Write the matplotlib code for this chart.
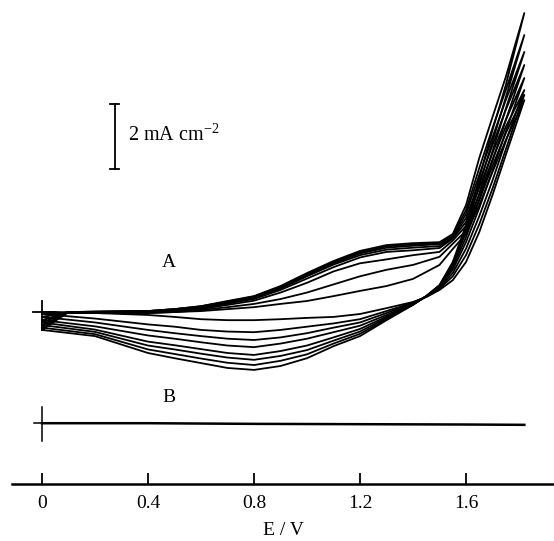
import numpy as np
import matplotlib.pyplot as plt

plt.rcParams['font.family'] = ['Liberation Serif', 'DejaVu Serif']
plt.rcParams['mathtext.fontset'] = 'custom'
plt.rcParams['mathtext.rm'] = 'Liberation Serif'

# potential grids (V) for the positive-going and negative-going sweeps
E_fwd = [0.0, 0.1, 0.4, 0.5, 0.6, 0.7, 0.8, 0.9, 1.0, 1.1, 1.2, 1.3, 1.4, 1.5, 1.55, 1.6, 1.65, 1.7, 1.75, 1.82]
E_rev = [1.82, 1.75, 1.7, 1.65, 1.6, 1.55, 1.5, 1.45, 1.4, 1.3, 1.2, 1.1, 1.0, 0.9, 0.8, 0.7, 0.6, 0.5, 0.4, 0.2, 0.0]

# curve A, current density (mA cm-2), one forward + one reverse sweep per cycle
fwd_1 = [0.00, -0.03, -0.03, 0.00, 0.03, 0.09, 0.15, 0.25, 0.34, 0.49, 0.65, 0.80, 1.02, 1.45, 1.94, 2.40, 3.29, 4.31, 5.29, 6.52]
fwd_2 = [-0.06, 0.00, -0.03, 0.00, 0.06, 0.15, 0.25, 0.40, 0.60, 0.85, 1.10, 1.30, 1.45, 1.70, 2.10, 2.50, 3.45, 4.50, 5.50, 6.68]
fwd_3 = [-0.15, 0.00, 0.00, 0.03, 0.09, 0.22, 0.35, 0.60, 0.90, 1.25, 1.50, 1.62, 1.75, 1.85, 2.20, 2.65, 3.60, 4.70, 5.70, 6.83]
fwd_4 = [-0.25, 0.00, 0.00, 0.06, 0.12, 0.26, 0.40, 0.68, 1.03, 1.38, 1.68, 1.85, 1.90, 1.97, 2.26, 2.77, 3.82, 4.89, 5.91, 7.20]
fwd_5 = [-0.32, 0.00, 0.03, 0.06, 0.15, 0.29, 0.44, 0.72, 1.10, 1.46, 1.75, 1.92, 1.98, 2.03, 2.29, 2.89, 4.00, 5.14, 6.22, 7.60]
fwd_6 = [-0.40, 0.00, 0.03, 0.09, 0.15, 0.31, 0.46, 0.75, 1.14, 1.50, 1.80, 1.98, 2.04, 2.09, 2.31, 3.02, 4.22, 5.38, 6.52, 8.00]
fwd_7 = [-0.48, 0.00, 0.03, 0.09, 0.18, 0.32, 0.48, 0.78, 1.17, 1.54, 1.84, 2.02, 2.08, 2.12, 2.34, 3.14, 4.43, 5.66, 6.83, 8.52]
fwd_8 = [-0.55, 0.00, 0.03, 0.09, 0.18, 0.34, 0.49, 0.80, 1.20, 1.57, 1.88, 2.06, 2.12, 2.15, 2.40, 3.29, 4.74, 6.00, 7.23, 9.20]

rev_1 = [6.52, 4.83, 3.60, 2.46, 1.54, 0.98, 0.68, 0.46, 0.31, 0.12, -0.06, -0.15, -0.18, -0.22, -0.25, -0.25, -0.22, -0.15, -0.09, -0.03, 0.00]
rev_2 = [6.68, 5.00, 3.80, 2.70, 1.75, 1.10, 0.72, 0.47, 0.29, 0.03, -0.22, -0.35, -0.45, -0.55, -0.62, -0.60, -0.55, -0.45, -0.38, -0.20, -0.06]
rev_3 = [6.83, 5.25, 4.05, 2.95, 1.95, 1.20, 0.75, 0.48, 0.27, -0.03, -0.32, -0.48, -0.65, -0.78, -0.86, -0.82, -0.74, -0.65, -0.55, -0.32, -0.15]
rev_4 = [7.20, 5.55, 4.35, 3.20, 2.15, 1.30, 0.78, 0.48, 0.25, -0.09, -0.42, -0.62, -0.82, -0.97, -1.08, -1.03, -0.93, -0.82, -0.72, -0.44, -0.25]
rev_5 = [7.60, 5.90, 4.65, 3.45, 2.30, 1.38, 0.80, 0.49, 0.24, -0.14, -0.52, -0.78, -1.03, -1.20, -1.32, -1.26, -1.14, -1.02, -0.91, -0.54, -0.32]
rev_6 = [8.00, 6.25, 4.95, 3.65, 2.45, 1.44, 0.81, 0.49, 0.23, -0.18, -0.60, -0.88, -1.17, -1.35, -1.47, -1.40, -1.28, -1.15, -1.03, -0.61, -0.40]
rev_7 = [8.52, 6.60, 5.25, 3.90, 2.55, 1.50, 0.82, 0.49, 0.23, -0.22, -0.67, -0.97, -1.30, -1.50, -1.63, -1.56, -1.43, -1.29, -1.15, -0.68, -0.48]
rev_8 = [9.20, 6.98, 5.60, 4.12, 2.68, 1.54, 0.83, 0.49, 0.22, -0.25, -0.74, -1.05, -1.42, -1.66, -1.78, -1.72, -1.57, -1.42, -1.26, -0.74, -0.55]

# curve B (bare electrode), almost flat
E_B = [0.0, 0.4, 0.8, 1.2, 1.6, 1.82]
i_B = [0.00, 0.00, -0.02, -0.03, -0.04, -0.05]

offset_A = 0.0
offset_B = -3.42

fig = plt.figure(figsize=(5.54, 5.41), dpi=100)
ax = fig.add_axes([12 / 554, 57 / 541, 542 / 554, 484 / 541])

cycles = [(fwd_1, rev_1), (fwd_2, rev_2), (fwd_3, rev_3), (fwd_4, rev_4),
          (fwd_5, rev_5), (fwd_6, rev_6), (fwd_7, rev_7), (fwd_8, rev_8)]
for f, r in cycles:
    E = np.concatenate([E_fwd, E_rev])
    i = np.concatenate([f, r]) + offset_A
    ax.plot(E, i, color='black', lw=1.3, clip_on=False, solid_joinstyle='round')

ax.plot(E_B, np.array(i_B) + offset_B, color='black', lw=1.8)

# crosses marking the zero current of each curve
ax.plot([-0.035, 0.02], [offset_A, offset_A], color='black', lw=1.3)
ax.plot([0, 0], [offset_A + 0.35, offset_A - 0.5], color='black', lw=1.3)
ax.plot([-0.03, 0.03], [offset_B, offset_B], color='black', lw=1.1)
ax.plot([0, 0], [offset_B + 0.5, offset_B - 0.55], color='black', lw=1.1)

ax.text(0.48, 1.51, 'A', fontsize=14, ha='center', va='center')
ax.text(0.48, -2.62, 'B', fontsize=14, ha='center', va='center')

# scale bar 2 mA cm-2
ax.plot([0.275, 0.275], [4.4, 6.4], color='black', lw=1.3)
ax.plot([0.258, 0.292], [6.4, 6.4], color='black', lw=1.3)
ax.plot([0.258, 0.292], [4.4, 4.4], color='black', lw=1.3)
ax.text(0.325, 5.45, r'2 mA cm$^{-2}$', fontsize=14.5, ha='left', va='center')

ax.set_xlim(-0.1132, 1.932)
ax.set_ylim(-5.29, 9.6)

for s in ['top', 'right', 'left']:
    ax.spines[s].set_visible(False)
ax.spines['bottom'].set_linewidth(1.8)
ax.set_yticks([])
ax.set_xticks([0, 0.4, 0.8, 1.2, 1.6])
ax.set_xticklabels(['0', '0.4', '0.8', '1.2', '1.6'])
ax.tick_params(axis='x', direction='in', length=8, width=1.3, pad=8, labelsize=14)
ax.set_xlabel('E / V', fontsize=14, labelpad=7)

fig.savefig('out.png', dpi=100)
